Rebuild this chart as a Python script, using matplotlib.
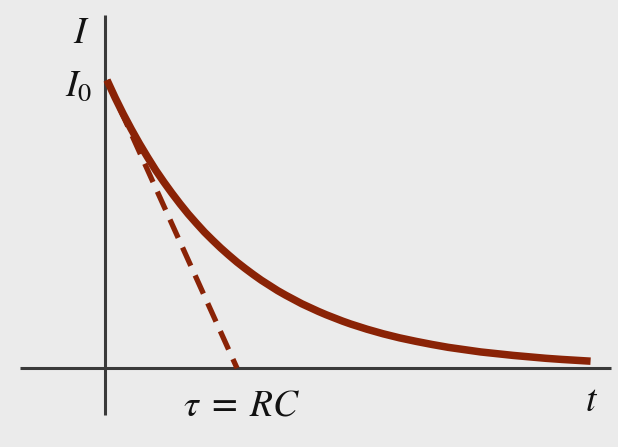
import matplotlib
matplotlib.use("Agg")
import matplotlib.pyplot as plt

# Decay curve: time in units of tau, current in units of I0
t_curve = [0.0, 0.0625, 0.125, 0.1875, 0.25, 0.3125, 0.375, 0.4375, 0.5, 0.5625, 0.625,
           0.6875, 0.75, 0.8125, 0.875, 0.9375, 1.0, 1.0625, 1.125, 1.1875, 1.25, 1.3125,
           1.375, 1.4375, 1.5, 1.5625, 1.625, 1.6875, 1.75, 1.8125, 1.875, 1.9375, 2.0,
           2.125, 2.25, 2.375, 2.5, 2.625, 2.75, 2.875, 3.0, 3.125, 3.25, 3.375, 3.5,
           3.61, 3.72]
i_curve = [1.0, 0.939, 0.882, 0.829, 0.779, 0.732, 0.687, 0.646, 0.607, 0.570, 0.535,
           0.503, 0.472, 0.444, 0.417, 0.392, 0.368, 0.346, 0.325, 0.305, 0.287, 0.269,
           0.253, 0.238, 0.223, 0.210, 0.197, 0.185, 0.174, 0.163, 0.153, 0.144, 0.135,
           0.119, 0.105, 0.093, 0.082, 0.072, 0.064, 0.056, 0.050, 0.044, 0.039, 0.034,
           0.030, 0.027, 0.024]
# Tangent at t = 0 (dashed), hitting the axis at tau = RC
t_tangent = [0.0, 1.0]
i_tangent = [1.0, 0.0]

# Axis extents
x_axis_t = [-0.67, 3.88]
y_axis_i = [-0.163, 1.226]

labels = {"I": r"$I$", "I0": r"$I_0$", "tau": r"$\tau\;=\;RC$", "t": r"$t$"}

plt.rcParams["mathtext.fontset"] = "stix"

fig = plt.figure(figsize=(6.18, 4.47), dpi=100)
fig.patch.set_facecolor("#ebebeb")
ax = fig.add_axes([0, 0, 1, 1])
ax.set_facecolor("#ebebeb")
ax.set_xlim(-0.823, 3.931)
ax.set_ylim(-0.274, 1.278)
ax.axis("off")

axis_col = "#3a3a3a"
ax.plot(x_axis_t, [0, 0], color=axis_col, lw=2.2, solid_capstyle="butt", zorder=2)
ax.plot([-0.015, -0.015], y_axis_i, color=axis_col, lw=2.2, solid_capstyle="butt", zorder=2)

curve_col = "#8a2306"
ax.plot(t_tangent, i_tangent, color=curve_col, lw=3.8, dashes=(3.8, 2.0),
        dash_capstyle="butt", zorder=3)
ax.plot(t_curve, i_curve, color=curve_col, lw=5.4, solid_capstyle="butt",
        solid_joinstyle="round", zorder=4)

ax.text(-0.2, 1.165, labels["I"], fontsize=27, ha="center", va="center", color="#111111")
ax.text(-0.22, 0.98, labels["I0"], fontsize=27, ha="center", va="center", color="#111111")
ax.text(1.04, -0.13, labels["tau"], fontsize=27, ha="center", va="center", color="#111111")
ax.text(3.73, -0.115, labels["t"], fontsize=27, ha="center", va="center", color="#111111")

fig.savefig("out.png", dpi=100, facecolor=fig.get_facecolor())
